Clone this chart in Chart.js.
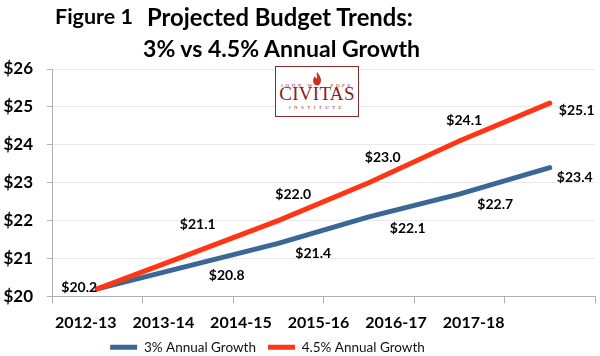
<!DOCTYPE html>
<html><head><meta charset="utf-8">
<script src="https://cdn.jsdelivr.net/npm/chart.js@4"></script>
<style>
html,body{margin:0;padding:0;background:#fff;}
#wrap{position:relative;width:600px;height:356px;overflow:hidden;background:#fff;}
#c{position:absolute;left:0;top:0;}
.t{position:absolute;font-family:Lato,"Open Sans",sans-serif;font-weight:bold;color:#000;white-space:nowrap;line-height:1;}
#logo{position:absolute;left:275px;top:66px;width:82px;height:49px;border:1px solid #8c2a2a;background:#fff;font-family:"Liberation Serif",serif;color:#8c1c1c;text-align:center;}
#logo .s{position:absolute;left:0;width:82px;font-size:5px;letter-spacing:2.6px;line-height:1;}
#logo .big{position:absolute;left:0;width:82px;top:17px;font-size:19px;line-height:1;letter-spacing:0.3px;}
</style></head><body>
<div id="wrap">
<canvas id="c" width="600" height="356"></canvas>
<div class="t" id="t1" style="left:55px;top:6px;font-size:21.5px">Figure 1</div>
<div class="t" id="t2" style="left:147px;top:5px;font-size:23px">Projected Budget Trends:</div>
<div class="t" id="t3" style="left:143px;top:37px;font-size:23px">3% vs 4.5% Annual Growth</div>
<div id="logo">
  <div class="s" style="top:16px;">JOHN W&nbsp;&nbsp;&nbsp;&nbsp;POPE</div>
  <svg style="position:absolute;left:36px;top:5px" width="10" height="14" viewBox="0 0 10 14">
    <path d="M5 0 C7 3 9 5 9 8.5 C9 11.5 7 13.5 5 13.5 C3 13.5 1 11.5 1 8.5 C1 6.5 2.5 5.5 3 4 C3.5 6 4.5 6.5 5 6.5 C5.5 4.5 4 2 5 0 Z" fill="#c8321e"/>
  </svg>
  <div class="big">CIVITAS</div>
  <div class="s" style="top:38px;letter-spacing:3.4px;">INSTITUTE</div>
</div>
</div>
<script>
const categories = ['2012-13', '2013-14', '2014-15', '2015-16', '2016-17', '2017-18'];
const growth3 = [20.2, 20.8, 21.4, 22.1, 22.7, 23.4];
const growth45 = [20.2, 21.1, 22.0, 23.0, 24.1, 25.1];
const seriesNames = ['3% Annual Growth', '4.5% Annual Growth'];
const yTicks = [20, 21, 22, 23, 24, 25, 26];

const FONT = 'Lato, "Open Sans", sans-serif';
const BLUE = '#3a6896';
const RED = '#ff3514';

// fit title text widths to the reference layout
[['t2', 266], ['t3', 277]].forEach(([id, w]) => {
  const el = document.getElementById(id);
  const cur = el.getBoundingClientRect().width;
  const fs = parseFloat(getComputedStyle(el).fontSize);
  el.style.fontSize = (fs * w / cur).toFixed(2) + 'px';
});

// label offsets (pixels from each point) — styling only
const labelOffsets = [
  [null, [39, 9], [35, 10], [39, 12], [36, 10], [25, 10]],
  [[-18, -1], [10, -30], [15, -26], [14, -25], [5, -21], [27, 7]]
];

const valueLabels = {
  id: 'valueLabels',
  afterDatasetsDraw(chart) {
    const ctx = chart.ctx;
    ctx.save();
    ctx.font = 'bold 14px ' + FONT;
    ctx.fillStyle = '#000';
    ctx.textAlign = 'center';
    ctx.textBaseline = 'middle';
    chart.data.datasets.forEach((ds, di) => {
      const meta = chart.getDatasetMeta(di);
      meta.data.forEach((pt, i) => {
        const off = labelOffsets[di][i];
        if (!off) return;
        ctx.fillText('$' + ds.data[i].toFixed(1), pt.x + off[0], pt.y + off[1]);
      });
    });
    ctx.restore();
  }
};

const legendShift = {
  id: 'legendShift',
  afterLayout(chart) {
    const lg = chart.legend;
    if (lg) { lg.left -= 30; lg.right -= 30; }
  }
};

new Chart(document.getElementById('c'), {
  type: 'line',
  data: {
    labels: categories,
    datasets: [
      { label: seriesNames[0], data: growth3, borderColor: BLUE, backgroundColor: BLUE, borderWidth: 5, pointRadius: 0, tension: 0, borderCapStyle: 'round', order: 1 },
      { label: seriesNames[1], data: growth45, borderColor: RED, backgroundColor: RED, borderWidth: 5, pointRadius: 0, tension: 0, borderCapStyle: 'round', order: 0 }
    ]
  },
  options: {
    responsive: false,
    animation: false,
    devicePixelRatio: 1,
    layout: { padding: { top: 69, left: 0, right: 5, bottom: -8 } },
    plugins: {
      tooltip: { enabled: false },
      title: { display: false },
      legend: {
        position: 'bottom',
        labels: {
          boxWidth: 27, boxHeight: 5, padding: 12,
          color: '#111',
          font: { family: FONT, size: 13.5 },
          sort: (a, b) => a.datasetIndex - b.datasetIndex,
          generateLabels(chart) {
            return Chart.defaults.plugins.legend.labels.generateLabels(chart).map(it => Object.assign(it, { lineWidth: 0 }));
          }
        }
      }
    },
    scales: {
      x: {
        type: 'category',
        offset: true,
        grid: { display: true, drawOnChartArea: false, tickLength: 7, tickColor: '#b0b0b0', offset: true },
        border: { display: true, color: '#b0b0b0', width: 1 },
        ticks: { display: false },
        afterFit(s) { s.height = 8; }
      },
      x2: {
        type: 'category',
        axis: 'x',
        position: 'bottom',
        labels: categories.concat(['']),
        offset: true,
        grid: { display: false, drawTicks: false },
        border: { display: false },
        ticks: { color: '#000', font: { family: FONT, size: 16, weight: 'bold' }, padding: 9, labelOffset: -5, maxRotation: 0, autoSkip: false },
        afterFit(s) { s.height = 24; }
      },
      y: {
        min: yTicks[0],
        max: yTicks[yTicks.length - 1],
        afterBuildTicks(s) { s.ticks = yTicks.map(v => ({ value: v })); },
        grid: { color: '#e8e8e8', tickColor: '#b0b0b0', tickLength: 5 },
        border: { color: '#b0b0b0', width: 1 },
        ticks: { color: '#000', font: { family: FONT, size: 17, weight: 'bold' }, padding: 14, callback: v => '$' + v },
        afterFit(s) { s.width = 52; }
      }
    }
  },
  plugins: [valueLabels, legendShift]
});
</script>
</body></html>
